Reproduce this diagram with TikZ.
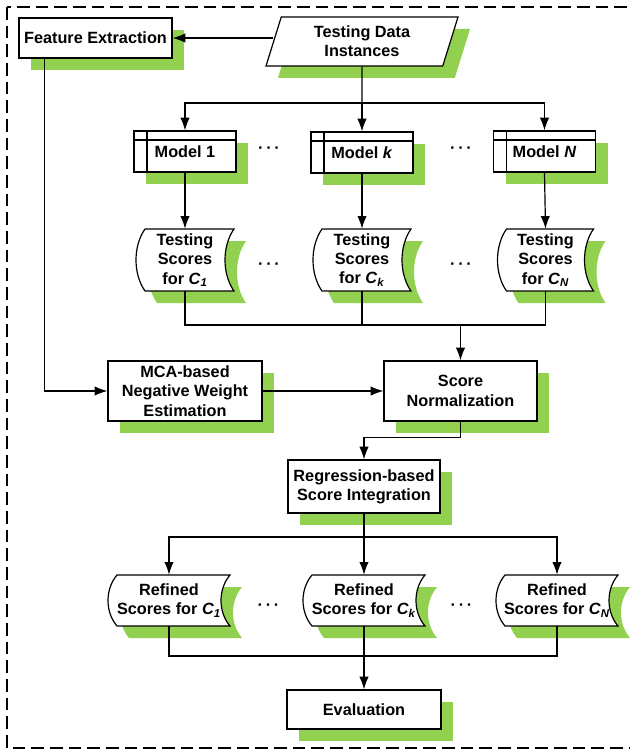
\documentclass[tikz,border=0pt]{standalone}
\usepackage{fontspec}
\setmainfont{Liberation Sans}
\usetikzlibrary{arrows.meta,shapes.geometric,shadows}
\definecolor{shadowgreen}{RGB}{146,208,80}
\tikzset{
  base/.style={draw,fill=white,line width=0.9pt,align=center,inner sep=0pt,
    font=\fontsize{12.2}{14.5}\selectfont\bfseries,
    general shadow={fill=shadowgreen,shadow xshift=9pt,shadow yshift=-9pt}},
  box/.style={base,rectangle},
  model/.style={box,minimum width=76.5pt,minimum height=30.75pt,
    path picture={
      \draw[line width=0.9pt] ([xshift=9.75pt]path picture bounding box.north west) -- ([xshift=9.75pt]path picture bounding box.south west);
      \draw[line width=0.9pt] ([yshift=-6.75pt]path picture bounding box.north west) -- ([yshift=-6.75pt]path picture bounding box.north east);}},
  inputbox/.style={base,trapezium,trapezium left angle=64,trapezium right angle=116,
    trapezium stretches body,minimum width=144pt,minimum height=36.75pt},
  txt/.style={align=center,inner sep=0pt,font=\fontsize{12.2}{14.5}\selectfont\bfseries},
  arr/.style={-{Latex[length=9.5pt,width=7pt]},line width=0.9pt},
  link/.style={line width=0.9pt},
}
% stored data outline, centred at the origin: half width, half height
\newcommand{\scorepath}[2]{({-#1+9},{-#2}) -- (#1,{-#2}) .. controls ({#1-12},{-0.45*#2}) and ({#1-12},{0.45*#2}) .. (#1,#2) -- ({-#1+9},#2) .. controls ({-#1-3},{0.45*#2}) and ({-#1-3},{-0.45*#2}) .. ({-#1+9},{-#2}) -- cycle}
% name, x, y, half width, half height, text
\newcommand{\scorenode}[6]{%
  \fill[shadowgreen,shift={({#2+12},{#3+12})}] \scorepath{#4}{#5};
  \filldraw[fill=white,line width=0.9pt,shift={(#2,#3)}] \scorepath{#4}{#5};
  \node[txt,minimum height={#5*1.5pt}] (#1) at (#2,#3) {#6};
}
\begin{document}
\begin{tikzpicture}[x=0.75pt,y=-0.75pt]
  \useasboundingbox (0,0) rectangle (629,752);
  \draw[line width=0.9pt,dash pattern=on 9.5pt off 4.5pt] (7,7) rectangle (640,748);

  % input and features
  \node[box,minimum width=114.75pt,minimum height=30pt] (fe) at (95.5,38) {Feature Extraction};
  \node[inputbox] (data) at (362,41.5) {Testing Data\\Instances};
  \coordinate (split) at (362,103);

  % models
  \node[model] (m1) at (185,151.5) {Model 1};
  \node[model] (mk) at (362,152.5) {Model \textit{k}};
  \node[model] (mN) at (544.5,151.5) {Model \textit{N}};
  \node[txt] (dm1) at (269,150) {·\,·\,·};
  \node[txt] (dm2) at (461,150) {·\,·\,·};

  % testing scores
  \scorenode{s1}{185}{260}{49}{31}{Testing\\Scores\\for \textit{C}\textsubscript{\textit{1}}}
  \scorenode{sk}{362}{260}{49}{31}{Testing\\Scores\\for \textit{C}\textsubscript{\textit{k}}}
  \scorenode{sN}{545.5}{260}{48}{31}{Testing\\Scores\\for \textit{C}\textsubscript{\textit{N}}}
  \node[txt] (ds1) at (269,266) {·\,·\,·};
  \node[txt] (ds2) at (461,266) {·\,·\,·};
  \coordinate (merge) at (460.5,325);

  \node[box,minimum width=115.5pt,minimum height=45pt] (mca) at (185,391) {MCA-based\\Negative Weight\\Estimation};
  \node[box,minimum width=114.75pt,minimum height=45pt] (norm) at (460.5,391) {Score\\Normalization};
  \node[box,minimum width=114pt,minimum height=39.75pt] (reg) at (364,486.5) {Regression-based\\Score Integration};
  \coordinate (split2) at (364,537);

  % refined scores
  \scorenode{r1}{169}{600.5}{61}{25.5}{Refined\\Scores for \textit{C}\textsubscript{\textit{1}}}
  \scorenode{rk}{364}{600.5}{61}{25.5}{Refined\\Scores for \textit{C}\textsubscript{\textit{k}}}
  \scorenode{rN}{557}{600.5}{61}{25.5}{Refined\\Scores for \textit{C}\textsubscript{\textit{N}}}
  \node[txt] (dr1) at (268.5,607) {·\,·\,·};
  \node[txt] (dr2) at (461.5,607) {·\,·\,·};
  \coordinate (merge2) at (364,656);

  \node[box,minimum width=115.5pt,minimum height=29.25pt] (eval) at (364,709.5) {Evaluation};

  % connectors
  \draw[arr] (data.west |- fe.east) -- (fe.east);
  \draw[link] (data.south) -- (split);
  \draw[arr] (split) -| (m1.north);
  \draw[arr] (split) -- (mk.north);
  \draw[arr] (split) -| (mN.north);
  \draw[arr] (m1.south) -- (s1.north);
  \draw[arr] (mk.south) -- (sk.north);
  \draw[arr] (mN.south) -- (sN.north);
  \draw[link] (s1.south) |- (merge);
  \draw[link] (sk.south) |- (merge);
  \draw[link] (sN.south) |- (merge);
  \draw[arr] (merge) -- (norm.north);
  \draw[arr] ([xshift=19.5pt]fe.south west) |- (mca.west);
  \draw[arr] (mca.east) -- (norm.west);
  \draw[arr] (norm.south) -- ++(0,16) -| (reg.north);
  \draw[link] (reg.south) -- (split2);
  \draw[arr] (split2) -| (r1.north);
  \draw[arr] (split2) -- (rk.north);
  \draw[arr] (split2) -| (rN.north);
  \draw[link] (r1.south) |- (merge2);
  \draw[link] (rN.south) |- (merge2);
  \draw[arr] (rk.south) -- (eval.north);
\end{tikzpicture}
\end{document}
